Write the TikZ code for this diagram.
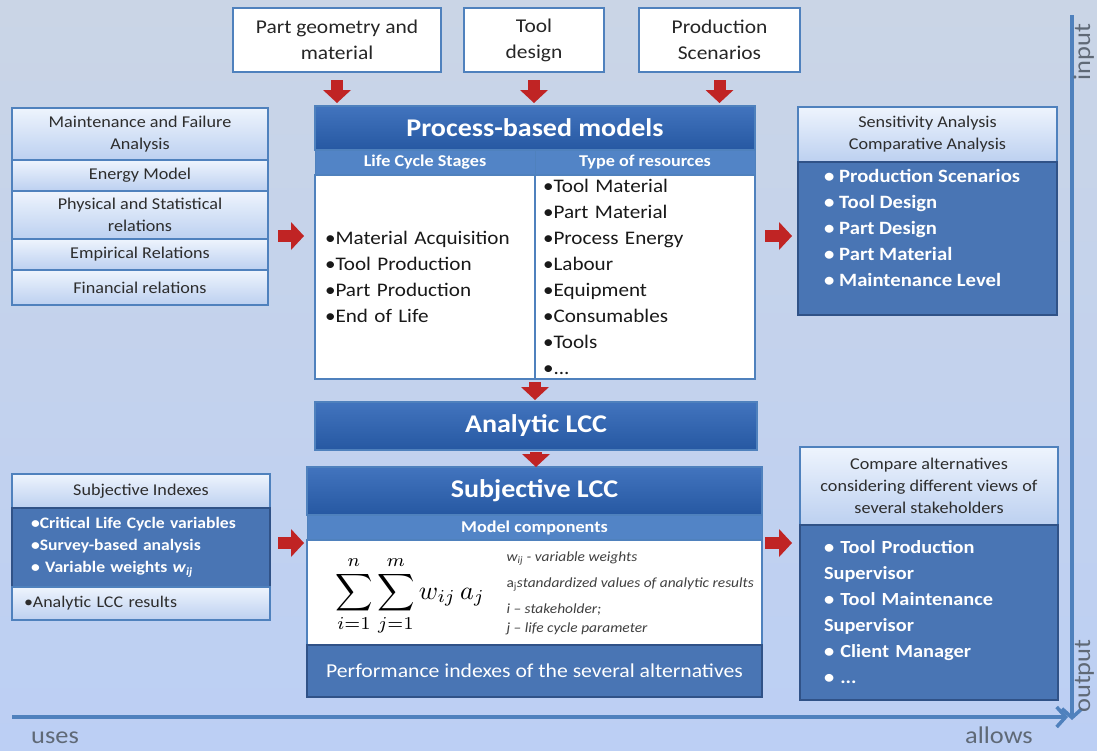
\documentclass[tikz,border=0pt]{standalone}
\usepackage{fontspec}
\setmainfont{Carlito}[FakeStretch=1.1]
\usepackage{graphicx}
\usetikzlibrary{arrows.meta,positioning}

\definecolor{bgtop}{RGB}{202,213,230}
\definecolor{bgbot}{RGB}{188,207,244}
\definecolor{frameblue}{RGB}{79,129,189}
\definecolor{headtop}{RGB}{66,116,190}
\definecolor{headbot}{RGB}{38,88,162}
\definecolor{subblue}{RGB}{82,132,198}
\definecolor{darkfill}{RGB}{73,117,180}
\definecolor{darkedge}{RGB}{48,82,135}
\definecolor{lighttop}{RGB}{238,244,253}
\definecolor{lightbot}{RGB}{188,208,240}
\definecolor{arrowred}{RGB}{192,36,36}
\definecolor{txtgrey}{RGB}{45,45,45}
\definecolor{axisgrey}{RGB}{95,105,118}

\tikzset{
  panel/.style={anchor=north west, inner sep=0pt, outer sep=0pt},
  whitebox/.style={panel, draw=frameblue, line width=2.5pt, fill=white, align=center, text=black!85, font=\fontsize{19.5}{26}\selectfont},
  lightbox/.style={panel, draw=frameblue, line width=1.2pt, top color=lighttop, bottom color=lightbot, align=center, text=txtgrey, font=\fontsize{16.5}{22}\selectfont},
  headbox/.style={panel, draw=frameblue, line width=1.2pt, top color=headtop, bottom color=headbot, text=white, font=\fontsize{25.5}{30}\selectfont\bfseries},
  subbar/.style={panel, draw=frameblue, line width=1pt, fill=subblue, text=white, font=\fontsize{16.5}{18}\selectfont\bfseries},
  darkbox/.style={panel, draw=darkedge, line width=1.5pt, fill=darkfill, text=white, align=left, font=\fontsize{18.5}{26}\selectfont\bfseries},
  listbox/.style={panel, draw=frameblue, line width=2.5pt, fill=white, align=left, text=black!90, font=\fontsize{19.2}{26}\selectfont},
  itemtext/.style={anchor=west, inner sep=0pt, align=left, text=white, font=\fontsize{18.8}{25.8}\selectfont\bfseries},
  redarr/.style={draw=arrowred, line width=12pt, -{Triangle[width=28pt,length=13pt,line width=0pt]}},
  axisline/.style={draw=frameblue, line width=3.5pt, -{Straight Barb[width=20pt,length=9pt]}},
  axislabel/.style={text=axisgrey, inner sep=0pt, font=\fontsize{24}{28}\selectfont},
}

\begin{document}
\begin{tikzpicture}[x=1pt,y=-1pt]
% background
\fill[top color=bgtop, bottom color=bgbot] (0,0) rectangle (1097,750);

% inputs
\node[whitebox, minimum width=208pt, minimum height=64pt] (partgeo) at (233,8) {Part geometry and\\material};
\node[whitebox, minimum width=140pt, minimum height=64pt] (tooldes) at (464,8) {Tool\\design};
\node[whitebox, minimum width=161pt, minimum height=64pt] (prodscen) at (639,8) {Production\\Scenarios};

% process-based models
\node[headbox, minimum width=440pt, minimum height=44pt] (proc) at (315,106) {Process-based models};
\node[subbar, minimum width=220pt, minimum height=25pt] (lchead) at (315,150) {Life Cycle Stages};
\node[subbar, minimum width=220pt, minimum height=25pt] (reshead) at (535,150) {Type of resources};
\node[listbox, minimum width=220pt, minimum height=204pt, text width=200pt] (lcbody) at (315,175)
  {•Material Acquisition\\•Tool Production\\•Part Production\\•End of Life};
\node[listbox, minimum width=220pt, minimum height=204pt, text width=204pt] (resbody) at (535,175)
  {•Tool Material\\•Part Material\\•Process Energy\\•Labour\\•Equipment\\•Consumables\\•Tools\\•...};

% analytic and subjective LCC
\node[headbox, minimum width=442pt, minimum height=48pt] (analytic) at (315,402) {Analytic LCC};
\node[headbox, minimum width=455pt, minimum height=48pt] (subj) at (307,467) {Subjective LCC};
\node[subbar, minimum width=455pt, minimum height=25pt] (modelbar) at (307,515) {Model components};
\node[panel, draw=frameblue, line width=1.2pt, fill=white, minimum width=455pt, minimum height=105pt] (modelbody) at (307,540) {};
\node[darkbox, align=center, font=\fontsize{19.7}{22}\selectfont, minimum width=455pt, minimum height=52pt] (perf) at (307,645)
  {Performance indexes of the several alternatives};
\node (formula) at (410,596) {\scalebox{2.6}{$\displaystyle\sum_{i=1}^{n}\sum_{j=1}^{m} w_{ij}\,a_j$}};
\node[anchor=west, align=left, text=black!75, font=\fontsize{14}{19}\selectfont\itshape] (legend) at (503,593)
  {w\textsubscript{ij} - variable weights\\[7pt]
   {\upshape a\textsubscript{j}}standardized values of analytic results\\[7pt]
   i – stakeholder;\\
   j – life cycle parameter};

% model sources
\node[lightbox, minimum width=256pt, minimum height=52pt] (maint) at (12,108) {Maintenance and Failure\\Analysis};
\node[lightbox, minimum width=256pt, minimum height=31pt] (energy) at (12,160) {Energy Model};
\node[lightbox, minimum width=256pt, minimum height=48pt] (phys) at (12,191) {Physical and Statistical\\relations};
\node[lightbox, minimum width=256pt, minimum height=31pt] (empir) at (12,239) {Empirical Relations};
\node[lightbox, minimum width=256pt, minimum height=35pt] (financ) at (12,270) {Financial relations};

% sensitivity
\node[lightbox, minimum width=259pt, minimum height=55pt] (sens) at (798,107) {Sensitivity Analysis\\Comparative Analysis};
\node[darkbox, minimum width=259pt, minimum height=153pt] (sensbody) at (798,162) {};
\node[itemtext] (senslist) at (824,228)
  {• Production Scenarios\\• Tool Design\\• Part Design\\• Part Material\\• Maintenance Level};

% subjective indexes
\node[lightbox, minimum width=258pt, minimum height=34pt] (subjidx) at (12,474) {Subjective Indexes};
\node[darkbox, minimum width=258pt, minimum height=79pt, text width=220pt, font=\fontsize{16}{22}\selectfont\bfseries] (subjbody) at (12,508)
  {•Critical Life Cycle variables\\•Survey-based analysis\\• Variable weights \textit{w}\textsubscript{\textit{ij}}};
\node[lightbox, minimum width=258pt, minimum height=33pt, align=left, text width=234pt, font=\fontsize{16.3}{22}\selectfont] (anres) at (12,587) {•Analytic LCC results};

% stakeholders
\node[lightbox, minimum width=258pt, minimum height=78pt] (compare) at (800,447)
  {Compare alternatives\\considering different views of\\several stakeholders};
\node[darkbox, minimum width=258pt, minimum height=175pt, text width=210pt] (stakebody) at (800,525)
  {• Tool Production\\Supervisor\\• Tool Maintenance\\Supervisor\\• Client Manager\\• ...};

% red arrows
\foreach \src in {partgeo,tooldes,prodscen}
  \draw[redarr, shorten <=8pt, shorten >=3pt] (\src.south) -- (\src.south |- proc.north);
\draw[redarr, shorten <=10pt, shorten >=11pt] ([yshift=3pt]phys.south east) -- ([yshift=3pt]phys.south east -| lcbody.west);
\draw[redarr, shorten <=10pt, shorten >=6pt] ([yshift=3pt]phys.south east -| resbody.east) -- ([yshift=3pt]phys.south east -| sensbody.west);
\draw[redarr, shorten <=3pt, shorten >=2pt] (lcbody.south east) -- (lcbody.south east |- analytic.north);
\draw[redarr, shorten <=2pt, shorten >=0pt] (analytic.south) -- (analytic.south |- subj.north);
\draw[redarr, shorten <=8pt, shorten >=3pt] ([yshift=-3pt]modelbar.south west -| subjbody.east) -- ([yshift=-3pt]modelbar.south west);
\draw[redarr, shorten <=3pt, shorten >=8pt] ([yshift=-3pt]modelbar.south east) -- ([yshift=-3pt]modelbar.south east -| stakebody.west);

% axes
\coordinate (hstart) at (12,717);
\coordinate (hend) at (1068,717);
\coordinate (vstart) at (1072,15);
\coordinate (vend) at (1072,720);
\draw[axisline] (hstart) -- (hend);
\draw[axisline] (vstart) -- (vend);
\node[axislabel, anchor=base] (uses) at (55,743) {uses};
\node[axislabel, anchor=base] (allows) at (999,743) {allows};
\node[axislabel, anchor=base, rotate=90] (inlabel) at (1090,52) {input};
\node[axislabel, anchor=base, rotate=90] (outlabel) at (1090,676) {output};
\end{tikzpicture}
\end{document}
